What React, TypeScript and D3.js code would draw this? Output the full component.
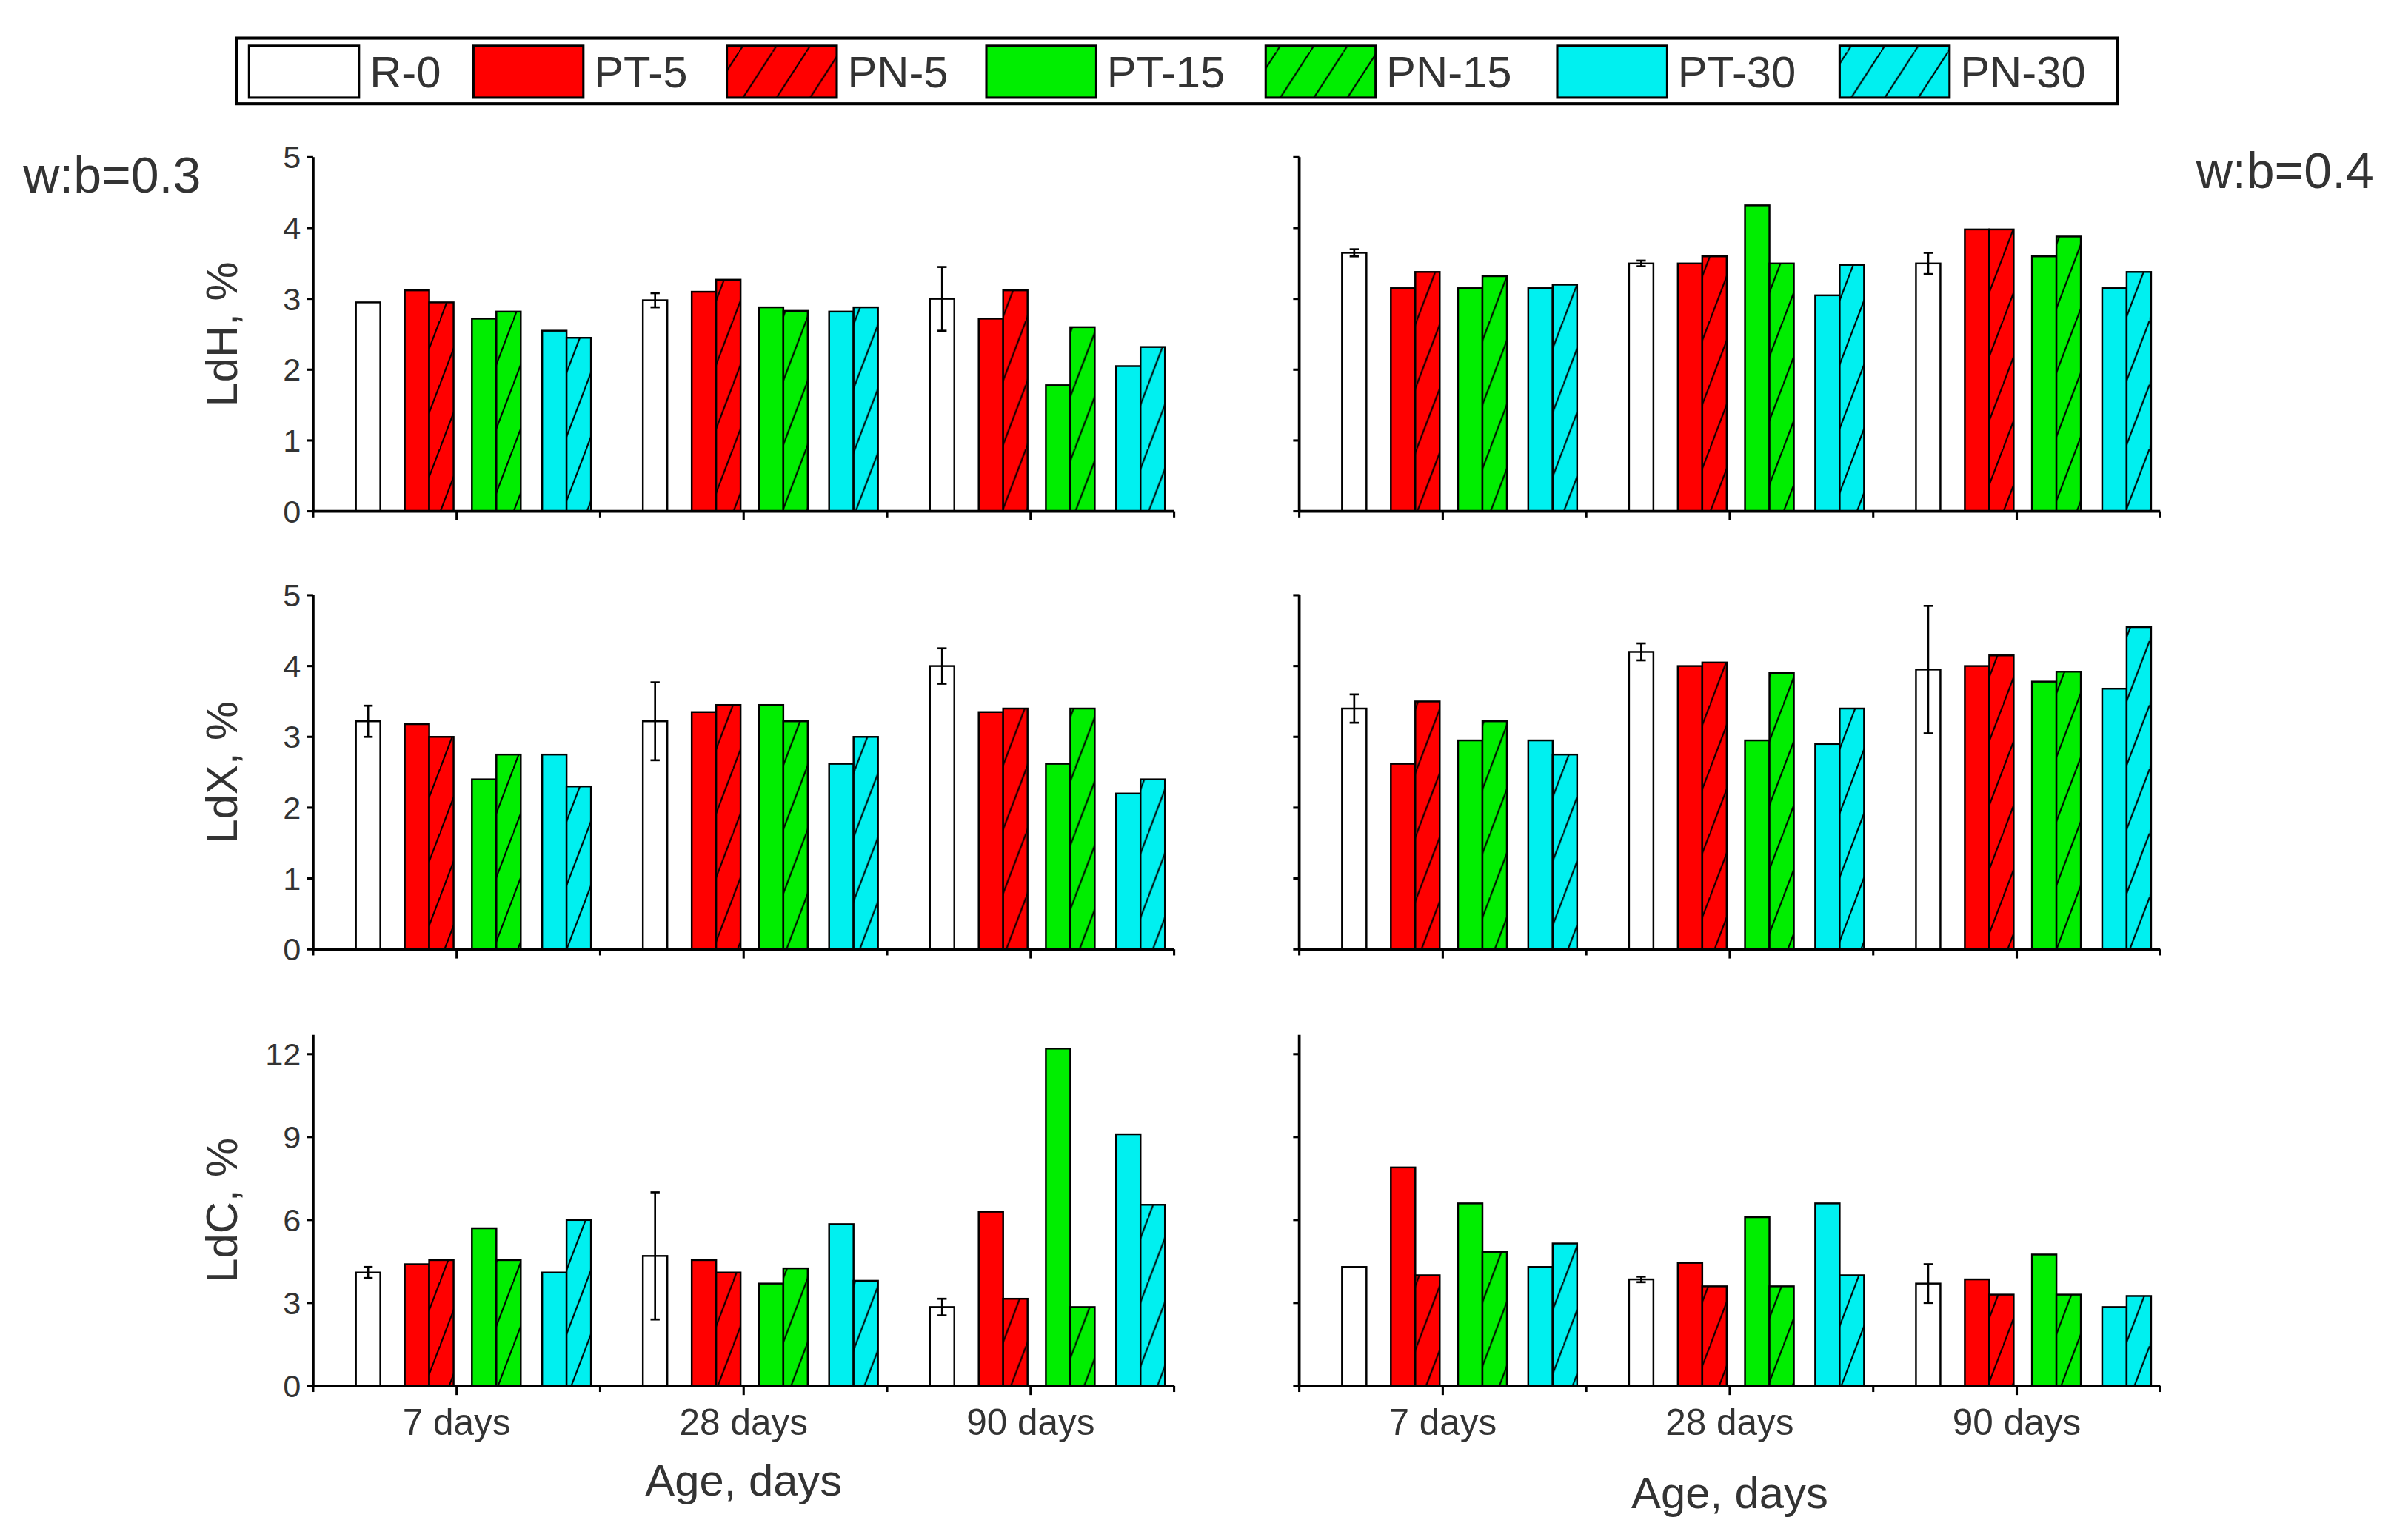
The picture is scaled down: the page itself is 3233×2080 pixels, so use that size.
import * as d3 from "d3";

const series = ["R-0", "PT-5", "PN-5", "PT-15", "PN-15", "PT-30", "PN-30"];
const fills = ["#ffffff", "#ff0000", "#ff0000", "#00ee00", "#00ee00", "#00f0f0", "#00f0f0"];
const hatched = [false, false, true, false, true, false, true];
const ages = ["7 days", "28 days", "90 days"];

// values[age][series]
const ldH03 = [
  [2.95, 3.12, 2.95, 2.72, 2.82, 2.55, 2.45],
  [2.98, 3.1, 3.27, 2.88, 2.83, 2.82, 2.88],
  [3.0, 2.72, 3.12, 1.78, 2.6, 2.05, 2.32],
];
const ldH04 = [
  [3.65, 3.15, 3.38, 3.15, 3.32, 3.15, 3.2],
  [3.5, 3.5, 3.6, 4.32, 3.5, 3.05, 3.48],
  [3.5, 3.98, 3.98, 3.6, 3.88, 3.15, 3.38],
];
const ldX03 = [
  [3.22, 3.18, 3.0, 2.4, 2.75, 2.75, 2.3],
  [3.22, 3.35, 3.45, 3.45, 3.22, 2.62, 3.0],
  [4.0, 3.35, 3.4, 2.62, 3.4, 2.2, 2.4],
];
const ldX04 = [
  [3.4, 2.62, 3.5, 2.95, 3.22, 2.95, 2.75],
  [4.2, 4.0, 4.05, 2.95, 3.9, 2.9, 3.4],
  [3.95, 4.0, 4.15, 3.78, 3.92, 3.68, 4.55],
];
const ldC03 = [
  [4.1, 4.4, 4.55, 5.7, 4.55, 4.1, 6.0],
  [4.7, 4.55, 4.1, 3.7, 4.25, 5.85, 3.8],
  [2.85, 6.3, 3.15, 12.2, 2.85, 9.1, 6.55],
];
const ldC04 = [
  [4.3, 7.9, 4.0, 6.6, 4.85, 4.3, 5.15],
  [3.85, 4.45, 3.6, 6.1, 3.6, 6.6, 4.0],
  [3.7, 3.85, 3.3, 4.75, 3.3, 2.85, 3.25],
];
// R-0 error (± half-range) per age
const errH03 = [0, 0.1, 0.45];
const errH04 = [0.05, 0.04, 0.15];
const errX03 = [0.22, 0.55, 0.25];
const errX04 = [0.2, 0.12, 0.9];
const errC03 = [0.2, 2.3, 0.3];
const errC04 = [0, 0.1, 0.7];

const ticks5 = [0, 1, 2, 3, 4, 5];
const ticksC = [0, 3, 6, 9, 12];

// offsets of each bar inside a group (fraction of group width)
const slotStart = [28, 60, 76, 104, 120, 150, 166];
const GROUP = 188;
const BARW = 16;

const FONT = "'Liberation Sans', Arial, sans-serif";
const TXT = "#333";

interface PanelProps {
  x0: number;
  y0: number;
  top: number;
  domainMax: number;
  ticks: number[];
  data: number[][];
  err: number[];
  labels: boolean;
  ylabel?: string;
  xlabels?: boolean;
  agey?: number;
}

function Panel({ x0, y0, top, domainMax, ticks, data, err, labels, ylabel, xlabels, agey }: PanelProps) {
  const width = GROUP * 3;
  const y = d3.scaleLinear().domain([0, domainMax]).range([y0, top]);
  const xg = d3.scaleBand<string>().domain(ages).range([x0, x0 + width]).padding(0);
  return (
    <g>
      {data.map((row, gi) =>
        row.map((v, si) => {
          const bx = (xg(ages[gi]) ?? 0) + slotStart[si];
          return (
            <rect key={`${gi}-${si}`} x={bx} y={y(v)} width={BARW} height={y0 - y(v)}
              fill={hatched[si] ? `url(#hatch${si})` : fills[si]} stroke="#000" strokeWidth={1.2} />
          );
        })
      )}
      {data.map((row, gi) => {
        const e = err[gi];
        if (!e) return null;
        const cx = (xg(ages[gi]) ?? 0) + slotStart[0] + BARW / 2;
        return (
          <g key={`e${gi}`} stroke="#000" strokeWidth={1.3}>
            <line x1={cx} x2={cx} y1={y(row[0] + e)} y2={y(row[0] - e)} />
            <line x1={cx - 3} x2={cx + 3} y1={y(row[0] + e)} y2={y(row[0] + e)} />
            <line x1={cx - 3} x2={cx + 3} y1={y(row[0] - e)} y2={y(row[0] - e)} />
          </g>
        );
      })}
      {/* y axis */}
      <line x1={x0} x2={x0} y1={top} y2={y0} stroke="#000" strokeWidth={1.8} />
      {ticks.map((t) => (
        <g key={t}>
          <line x1={x0 - 4} x2={x0} y1={y(t)} y2={y(t)} stroke="#000" strokeWidth={1.5} />
          {labels && (
            <text x={x0 - 8} y={y(t)} dy="0.35em" textAnchor="end" fontSize={21} fontFamily={FONT} fill={TXT}>{t}</text>
          )}
        </g>
      ))}
      {/* x axis */}
      <line x1={x0} x2={x0 + width} y1={y0} y2={y0} stroke="#000" strokeWidth={1.8} />
      {d3.range(7).map((i) => (
        <line key={i} x1={x0 + (i * width) / 6} x2={x0 + (i * width) / 6} y1={y0} y2={y0 + (i % 2 ? 6 : 4)} stroke="#000" strokeWidth={1.5} />
      ))}
      {xlabels && ages.map((a) => (
        <text key={a} x={(xg(a) ?? 0) + GROUP / 2} y={y0 + 32} textAnchor="middle" fontSize={24} fontFamily={FONT} fill={TXT}>{a}</text>
      ))}
      {agey && (
        <text x={x0 + width / 2} y={agey} textAnchor="middle" fontSize={29} fontFamily={FONT} fill={TXT}>Age, days</text>
      )}
      {ylabel && (
        <text transform={`translate(${x0 - 50},${(y0 + top) / 2}) rotate(-90)`} textAnchor="middle" fontSize={29} fontFamily={FONT} fill={TXT}>{ylabel}</text>
      )}
    </g>
  );
}

const legendSwatch = [163, 310, 476, 646, 829, 1020, 1205];

export default function App() {
  const LX = 205;
  const RX = 851;
  return (
    <svg width={3233} height={2080} viewBox="0 0 1568 1009" style={{ position: "absolute", left: 0, top: 0, background: "#fff" }}>
      <defs>
        {series.map((s, i) => (
          <pattern key={s} id={`hatch${i}`} patternUnits="userSpaceOnUse" width={16} height={42}>
            <rect width={16} height={42} fill={fills[i]} />
            <line x1={0} y1={42} x2={16} y2={0} stroke="#000" strokeWidth={1} />
            <line x1={-16} y1={42} x2={0} y2={0} stroke="#000" strokeWidth={1} />
          </pattern>
        ))}
        {series.map((s, i) => (
          <pattern key={s} id={`lhatch${i}`} patternUnits="userSpaceOnUse" width={22} height={34}>
            <rect width={22} height={34} fill={fills[i]} />
            <line x1={0} y1={34} x2={22} y2={0} stroke="#000" strokeWidth={1} />
          </pattern>
        ))}
      </defs>
      {/* legend */}
      <rect x={155} y={25} width={1232} height={43} fill="#fff" stroke="#000" strokeWidth={2} />
      {series.map((s, i) => (
        <g key={s}>
          <rect x={legendSwatch[i]} y={30} width={72} height={34} fill={hatched[i] ? `url(#lhatch${i})` : fills[i]} stroke="#000" strokeWidth={1.5} />
          <text x={legendSwatch[i] + 79} y={47} dy="0.35em" fontSize={29} fontFamily={FONT} fill={TXT}>{s}</text>
        </g>
      ))}
      <text x={15} y={126} fontSize={33} fontFamily={FONT} fill={TXT}>w:b=0.3</text>
      <text x={1555} y={123} textAnchor="end" fontSize={33} fontFamily={FONT} fill={TXT}>w:b=0.4</text>

      <Panel x0={LX} y0={335} top={103} domainMax={5} ticks={ticks5} data={ldH03} err={errH03} labels ylabel="LdH, %" />
      <Panel x0={RX} y0={335} top={103} domainMax={5} ticks={ticks5} data={ldH04} err={errH04} labels={false} />
      <Panel x0={LX} y0={622} top={390} domainMax={5} ticks={ticks5} data={ldX03} err={errX03} labels ylabel="LdX, %" />
      <Panel x0={RX} y0={622} top={390} domainMax={5} ticks={ticks5} data={ldX04} err={errX04} labels={false} />
      <Panel x0={LX} y0={908} top={678} domainMax={12.7} ticks={ticksC} data={ldC03} err={errC03} labels ylabel="LdC, %" xlabels agey={980} />
      <Panel x0={RX} y0={908} top={678} domainMax={12.7} ticks={ticksC} data={ldC04} err={errC04} labels={false} xlabels agey={988} />
    </svg>
  );
}
